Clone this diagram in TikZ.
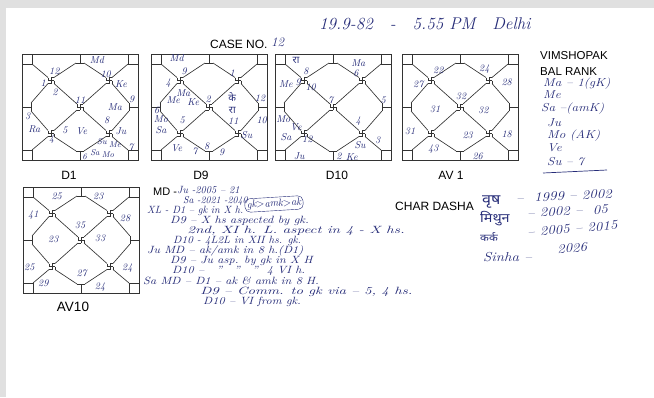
\documentclass[tikz,border=0pt]{standalone}
\usepackage{fontspec}
\newfontfamily\pechat{Liberation Sans}
\newfontfamily\hindi[Script=Devanagari]{Noto Sans}
\definecolor{chernila}{RGB}{38,44,120}
\tikzset{
  setka/.style={color=black!80, line width=0.65pt},
  ruka/.style={text=chernila, font=\itshape\fontsize{10}{11}\selectfont, inner sep=0pt},
  zapis/.style={text=chernila, font=\itshape\fontsize{10.5}{11}\selectfont, inner sep=0pt, anchor=west, xscale=1.15},
  shapka/.style={font=\pechat\fontsize{12}{14}\selectfont, inner sep=0pt},
  vertushka/.pic={\draw (0,-3) -- (0,3) (-3,0) -- (3,0) (0,-3) -- (3,-3) (-3,0) -- (-3,-3) (0,3) -- (-3,3) (3,0) -- (3,3);},
  kundali/.pic={
    \begin{scope}[setka]
      % рамка и углы
      \draw (0,0) rectangle (116,106);
      \draw (0,0) rectangle (10,10) (106,0) rectangle (116,10) (0,96) rectangle (10,106) (106,96) rectangle (116,106);
      % засечки по сторонам
      \draw (58,0) -- (58,9) (54,9) -- (62,9);
      \draw (58,106) -- (58,97) (54,97) -- (62,97);
      \draw (0,53) -- (9,53) (9,49) -- (9,57);
      \draw (116,53) -- (107,53) (107,49) -- (107,57);
      % вертушки
      \foreach \x/\y in {29/26.5, 87/26.5, 29/79.5, 87/79.5, 58/53}
        \pic at (\x,\y) {vertushka};
      % диагонали
      \draw (10,10) -- (26,23.5) (54,9) -- (32,23.5) (9,49) -- (26,29.5) (32,29.5) -- (55,50);
      \draw (106,10) -- (90,23.5) (62,9) -- (84,23.5) (107,49) -- (90,29.5) (84,29.5) -- (61,50);
      \draw (10,96) -- (26,82.5) (9,57) -- (26,76.5) (54,97) -- (32,82.5) (32,76.5) -- (55,56);
      \draw (106,96) -- (90,82.5) (107,57) -- (90,76.5) (62,97) -- (84,82.5) (84,76.5) -- (61,56);
    \end{scope}
  }
}
\begin{document}
\begin{tikzpicture}[x=1pt, y=-1pt]
  \useasboundingbox (0,0) rectangle (654,397);
  % поля скана
  \fill[black!12] (0,0) rectangle (654,8);
  \fill[black!12] (0,0) rectangle (6,397);

  % Заголовок
  \node[shapka, anchor=west] (nomer) at (210,44) {CASE NO.};
  \node[ruka, font=\itshape\fontsize{13}{14}\selectfont, anchor=west] (nomerv) at (271,42) {12};
  \node[ruka, font=\itshape\fontsize{17}{18}\selectfont, anchor=west] (data) at (319,24) {19.9-82\quad -\quad 5.55 PM\quad Delhi};

  % Карты
  \pic at (22,54) {kundali};
  \pic at (151,54) {kundali};
  \pic at (275,54) {kundali};
  \pic at (402,54) {kundali};
  \pic at (23,187) {kundali};

  % Подписи карт
  \node[shapka] (nD1) at (69,175) {D1};
  \node[shapka] (nD9) at (201,175) {D9};
  \node[shapka] (nD10) at (337,175) {D10};
  \node[shapka] (nAV1) at (451,175) {AV 1};
  \node[shapka, font=\pechat\fontsize{13.5}{15}\selectfont] (nAV10) at (73,307) {AV10};

  % D1
  \foreach \x/\y/\t [count=\i] in {97/60/Md, 54.3/71.7/12, 43.3/83.3/1, 55/92.7/2, 105.7/74/10, 121/84/Ke,
      80/100/11, 115/107.3/Ma, 131.7/99.3/9, 27.7/116/3, 34.3/129/Ra, 65/130.7/5, 81.7/130.7/Ve,
      106.7/120.7/8, 121/131/Ju, 51.7/139.3/4, 131/147.3/7}
    \node[ruka] (dA\i) at (\x,\y) {\t};
  \foreach \x/\y/\t [count=\i] in {102/141.5/Su, 115/145/Me, 84.5/156.5/6, 95/153/Sa, 108/154.5/Mo}
    \node[ruka, font=\itshape\fontsize{8.5}{9}\selectfont] (dAn\i) at (\x,\y) {\t};

  % D9
  \foreach \x/\y/\t [count=\i] in {176.7/58.3/Md, 184.3/71.7/9, 168.3/83.3/4, 232.3/73.3/1, 183.3/92.7/Ma,
      173.3/100/Me, 193.3/101.7/Ke, 208.3/99.3/2, 232.3/96.7/{\hindi के}, 232.3/110.7/{\hindi रा},
      260/98.3/12, 156.7/110.7/6, 161/119.3/Mo, 182.3/120.7/5, 233.3/121/11, 261.7/120/10, 161/130/Sa,
      246.7/135/Su, 176.7/148.3/Ve, 195/151.7/7, 206.7/146/8, 221.7/152.7/9}
    \node[ruka] (dB\i) at (\x,\y) {\t};

  % D10
  \foreach \x/\y/\t [count=\i] in {296/60/{\hindi रा}, 306/71.7/8, 286/84.3/Me, 298.3/82.3/9, 310.7/87.3/10,
      358.3/62.7/Ma, 356/73.3/6, 330.7/100/7, 383.3/100/5, 283.3/119.3/Mo, 296/127.3/Ve, 286/137.3/Sa,
      307.3/139.3/12, 358.3/121/4, 377.7/140/3, 360/145/Su, 299.3/156/Ju, 339/156.7/2, 351.7/156.7/Ke}
    \node[ruka] (dC\i) at (\x,\y) {\t};

  % AV 1
  \foreach \x/\y/\t [count=\i] in {438.3/70/22, 484.3/69.3/24, 418.3/84/27, 506.7/82.7/28, 461/96.7/32,
      435/109.3/31, 483.3/110.7/32, 410/131.7/31, 467.7/135/23, 506.7/134/18, 433.3/149.3/43, 477.7/156/26}
    \node[ruka] (dD\i) at (\x,\y) {\t};

  % AV10
  \foreach \x/\y/\t [count=\i] in {56.7/196/25, 98.3/196/23, 33.3/215/41, 125/218.3/28, 80/225/35,
      53.3/239.3/23, 100/238.3/33, 29.3/267.3/25, 81.7/273.3/27, 127.3/268.3/24, 43.3/283.3/29, 100/286.7/24}
    \node[ruka] (dE\i) at (\x,\y) {\t};

  % Вимшопак
  \node[shapka, font=\pechat\fontsize{11.5}{13}\selectfont, anchor=west] (vim) at (540,56) {VIMSHOPAK};
  \node[shapka, font=\pechat\fontsize{11.5}{13}\selectfont, anchor=west] (bal) at (540,72) {BAL RANK};
  \foreach \x/\y/\t [count=\i] in {543/84/{Ma -- 1(gK)}, 543/95/Me, 541/109/{Sa --(amK)}, 547/123/Ju,
      547/135.5/{Mo (AK)}, 547/148/Ve, 547/162/{Su -- 7}}
    \node[zapis, font=\itshape\fontsize{11.5}{12}\selectfont] (rank\i) at (\x,\y) {\t};
  \draw[chernila, line width=0.7pt] (543,173) -- (607,170);

  % Заметки
  \node[shapka, font=\pechat\fontsize{11}{12}\selectfont, anchor=west] (md) at (153,192) {MD -};
  \node[zapis, xscale=0.85] (md1) at (177,190) {Ju -2005 -- 21};
  \node[zapis, font=\itshape\fontsize{10}{11}\selectfont, xscale=0.85] (md2) at (183,201) {Sa -2021 -2040};
  \node[zapis, anchor=center, draw=chernila, rounded corners=5pt, inner sep=2pt, rotate=4, xscale=0.85] (ryad) at (274,204) {gk$>$amk$>$ak};
  \node[zapis, xscale=0.85] (xl) at (147,211) {XL - D1 -- gk in X h.};
  \node[zapis, xscale=1.02] (xl9) at (170,220.5) {D9 -- X hs aspected by gk.};
  \node[zapis, xscale=1.25] (xl9b) at (187,230.5) {2nd, XI h. L. aspect in 4 - X hs.};
  \node[zapis, xscale=0.92] (xl10) at (173,240.5) {D10 - 4L2L in XII hs. gk.};
  \node[zapis] (ju) at (147,250.5) {Ju MD -- ak/amk in 8 h.(D1)};
  \node[zapis, xscale=1] (ju9) at (170,260.5) {D9 -- Ju asp. by gk in X H};
  \node[zapis] (ju10) at (172,270.5) {D10 --\quad ''\quad ''\quad ''\ \ 4 VI h.};
  \node[zapis] (sa) at (143,281) {Sa MD -- D1 -- ak \& amk in 8 H.};
  \node[zapis, xscale=1.22] (sa9) at (200,292) {D9 -- Comm. to gk via -- 5, 4 hs.};
  \node[zapis] (sa10) at (203,302) {D10 -- VI from gk.};

  % Чар даша
  \node[shapka, anchor=west] (char) at (395,206) {CHAR DASHA};
  \node[zapis, font=\hindi\fontsize{14}{15}\selectfont, xscale=1] (vrish) at (482,202) {वृष};
  \node[zapis, font=\itshape\fontsize{13}{14}\selectfont, rotate=3] (vrishg) at (516,198) {--\ \ 1999 -- 2002};
  \node[zapis, font=\hindi\fontsize{12.5}{13}\selectfont, xscale=1] (mithun) at (480,219) {मिथुन};
  \node[zapis, font=\itshape\fontsize{13}{14}\selectfont, rotate=3] (mithung) at (527,213) {-- 2002 -- \ 05};
  \node[zapis, font=\hindi\fontsize{10}{11}\selectfont, xscale=1] (kark) at (480,237) {कर्क};
  \node[zapis, font=\itshape\fontsize{13}{14}\selectfont, rotate=5] (karkg) at (527,232) {-- 2005 -- 2015};
  \node[zapis, font=\itshape\fontsize{13}{14}\selectfont] (sinha) at (483,257) {Sinha --};
  \node[zapis, font=\itshape\fontsize{13}{14}\selectfont, rotate=4] (sinhag) at (557,249) {2026};
\end{tikzpicture}
\end{document}
